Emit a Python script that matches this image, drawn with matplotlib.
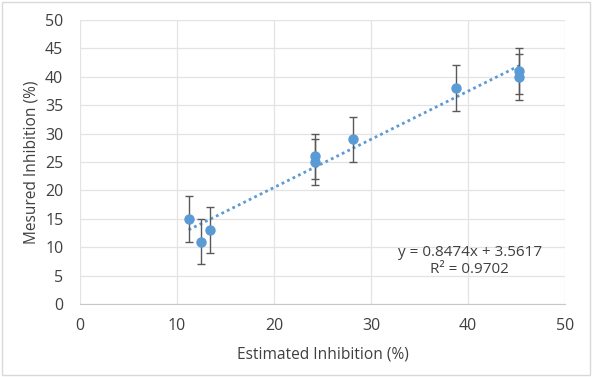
import numpy as np
from matplotlib import pyplot as plt
from matplotlib.patches import Rectangle

# data
estimated = [11.2, 12.5, 13.4, 24.2, 24.2, 28.2, 38.8, 45.3, 45.3]
measured = [15, 11, 13, 26, 25, 29, 38, 41, 40]
errors = [4, 4, 4, 4, 4, 4, 4, 4, 4]

# trendline from the chart's equation
slope = 0.8474
intercept = 3.5617
r2 = 0.9702

plt.rcParams['font.family'] = ['Open Sans', 'DejaVu Sans']

blue = '#5B9BD5'
grey_text = '#404040'

fig = plt.figure(figsize=(5.94, 3.77), dpi=100)
ax = fig.add_axes([0.1347, 0.1936, 0.8163, 0.7534])

xs = np.array([min(estimated), max(estimated)])
ax.plot(xs, slope * xs + intercept, color=blue, lw=2, ls=(0, (1, 1.2)), zorder=2)

ax.errorbar(estimated, measured, yerr=errors, fmt='o', color=blue, ms=6.5,
            ecolor='#595959', elinewidth=1, capsize=3, capthick=1, zorder=3)

ax.set_xlim(0, 50)
ax.set_ylim(0, 50)
ax.set_xticks(range(0, 51, 10))
ax.set_yticks(range(0, 51, 5))
ax.grid(True, color='#e3e3e3', lw=0.9)
ax.set_axisbelow(True)
for s in ['top', 'right', 'left']:
    ax.spines[s].set_visible(False)
ax.spines['bottom'].set_color('#c8c8c8')
ax.tick_params(length=0, labelsize=11.5, labelcolor=grey_text)
ax.tick_params(axis='y', pad=12)
ax.tick_params(axis='x', pad=10)

ax.set_xlabel('Estimated Inhibition (%)', fontsize=11.2, color=grey_text, labelpad=9)
ax.set_ylabel('Mesured Inhibition (%)', fontsize=11.2, color=grey_text, labelpad=4)

ax.text(0.804, 0.151, f'y = {slope}x + {intercept}\nR² = {r2}', transform=ax.transAxes,
        ha='center', va='center', fontsize=11, color=grey_text, linespacing=1.2)

fig.patches.append(Rectangle((0.004, 0.005), 0.99, 0.99, transform=fig.transFigure,
                             fill=False, edgecolor='#d9d9d9', lw=1))

fig.savefig('out.png', dpi=100)
